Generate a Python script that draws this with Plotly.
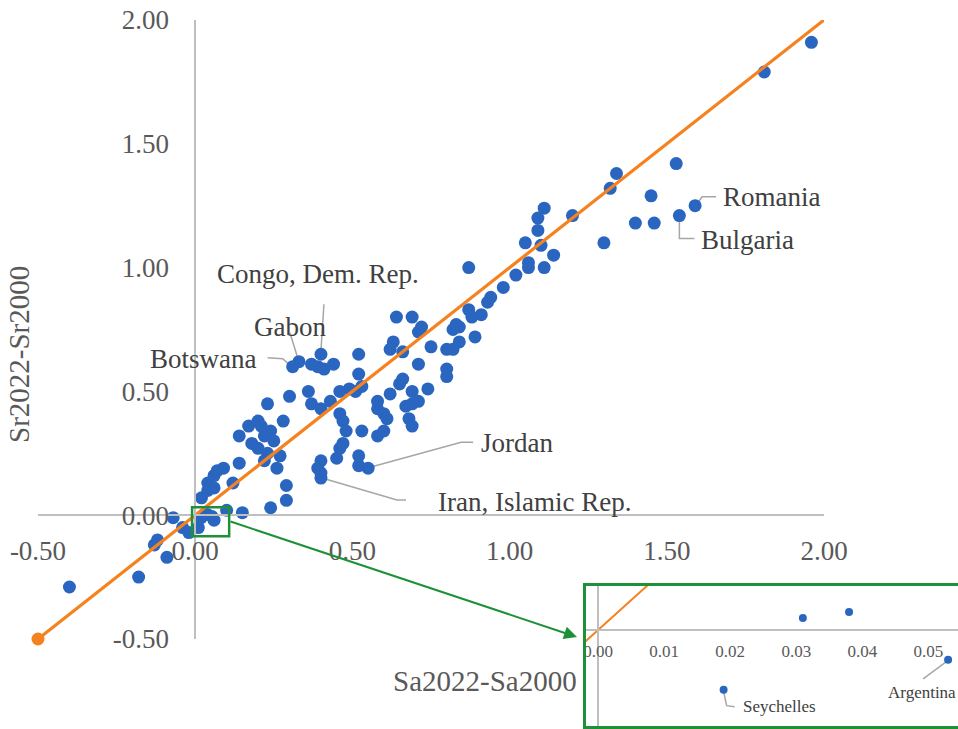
import plotly.graph_objects as go

# ---- data: change 2000 -> 2022 ----------------------------------------
sa_change = [
    -0.40, -0.18, -0.09, -0.13, -0.12, -0.07, -0.04, -0.02, 0.01, 0.06,
    0.02, 0.04, 0.04, 0.06, 0.06, 0.07, 0.09, 0.10, 0.12, 0.14,
    0.15, 0.24, 0.29, 0.29, 0.14, 0.17, 0.20, 0.21, 0.18, 0.20,
    0.22, 0.24, 0.25, 0.28, 0.23, 0.27, 0.22, 0.26,
    0.23, 0.30, 0.36, 0.37, 0.40, 0.43, 0.46, 0.47, 0.48, 0.47,
    0.46, 0.53, 0.62, 0.58, 0.58, 0.60, 0.61, 0.60, 0.58, 0.65,
    0.52, 0.53, 0.51, 0.49, 0.46, 0.52, 0.63, 0.62, 0.37, 0.39,
    0.41, 0.44, 0.40, 0.39, 0.40, 0.45, 0.52, 0.52, 0.66, 0.69,
    0.74, 0.71, 0.67, 0.69, 0.68, 0.69,
    0.64, 0.69, 0.72, 0.71, 0.66, 0.75, 0.80, 0.82, 0.84, 0.82,
    0.84, 0.83, 0.89, 0.88, 0.91, 0.87, 0.93, 0.94, 0.71, 0.80,
    0.80,
    0.87, 0.98, 1.02, 1.06, 1.06, 1.11, 1.14, 1.10, 1.05, 1.09,
    1.09, 1.11, 1.20, 1.30, 1.32, 1.34, 1.40, 1.45, 1.46, 1.53,
    1.81, 1.96,
    0.031, 0.038,
]
sr_change = [
    -0.29, -0.25, -0.17, -0.12, -0.10, -0.01, -0.05, -0.07, -0.05, -0.02,
    0.07, 0.10, 0.13, 0.11, 0.16, 0.18, 0.19, 0.02, 0.13, 0.21,
    0.01, 0.03, 0.06, 0.12, 0.32, 0.36, 0.38, 0.36, 0.29, 0.27,
    0.32, 0.34, 0.30, 0.38, 0.25, 0.24, 0.22, 0.19,
    0.45, 0.48, 0.50, 0.45, 0.43, 0.46, 0.41, 0.38, 0.34, 0.29,
    0.27, 0.34, 0.49, 0.46, 0.43, 0.41, 0.39, 0.34, 0.32, 0.53,
    0.57, 0.52, 0.50, 0.51, 0.50, 0.65, 0.70, 0.67, 0.61, 0.60,
    0.59, 0.61, 0.22, 0.19, 0.17, 0.23, 0.24, 0.20, 0.55, 0.50,
    0.51, 0.46, 0.44, 0.45, 0.39, 0.36,
    0.80, 0.80, 0.76, 0.74, 0.66, 0.68, 0.67, 0.67, 0.70, 0.75,
    0.76, 0.77, 0.72, 0.80, 0.81, 0.83, 0.86, 0.88, 0.61, 0.59,
    0.56,
    1.00, 0.92, 0.97, 1.00, 1.02, 1.00, 1.05, 1.09, 1.10, 1.15,
    1.20, 1.24, 1.21, 1.10, 1.32, 1.38, 1.18, 1.29, 1.18, 1.42,
    1.79, 1.91,
    0.002, 0.003,
]

# countries called out with a label
named_country = ["Romania", "Bulgaria", "Congo, Dem. Rep.", "Gabon", "Botswana",
                 "Jordan", "Iran, Islamic Rep.", "Seychelles", "Argentina"]
named_sa = [1.59, 1.54, 0.40, 0.33, 0.31, 0.55, 0.40, 0.019, 0.053]
named_sr = [1.25, 1.21, 0.65, 0.62, 0.60, 0.19, 0.15, -0.010, -0.005]

# 45-degree reference line
ref_x = [-0.50, 2.00]
ref_y = [-0.50, 2.00]

tick_vals = [-0.5, 0.0, 0.5, 1.0, 1.5, 2.0]
tick_text = ["-0.50", "0.00", "0.50", "1.00", "1.50", "2.00"]
zoom_tick_vals = [0.0, 0.01, 0.02, 0.03, 0.04, 0.05]
zoom_tick_text = ["0.00", "0.01", "0.02", "0.03", "0.04", "0.05"]

# ---- layout geometry ----------------------------------------------------
W, H = 958, 729
main_x_px = (38, 824)          # left / right edge of the main plot area
main_y_px = (20, 639)          # top / bottom edge
main_xr = [-0.5, 2.0]
main_yr = [-0.5, 2.0]

zoom_x_px = (583, 958)
zoom_y_px = (583, 729)
zoom_xr = [-0.0023, 0.0545]
zoom_yr = [-0.01659, 0.00787]

BLUE = "#2A66BF"
ORANGE = "#F5821F"
GREEN = "#1E9138"
AXIS = "#BFBFBF"
LEADER = "#A6A6A6"
SERIF = "Liberation Serif, Times New Roman, serif"


def px_dom_x(a, b):
    return [a / W, b / W]


def px_dom_y(top, bottom):
    return [1 - bottom / H, 1 - top / H]


def zero_pos(dom, rng):
    return dom[0] + (0 - rng[0]) / (rng[1] - rng[0]) * (dom[1] - dom[0])


mx_dom = px_dom_x(*main_x_px)
my_dom = px_dom_y(*main_y_px)
zx_dom = px_dom_x(*zoom_x_px)
zy_dom = px_dom_y(*zoom_y_px)

# data units per screen pixel, used for label leader offsets
scale = {
    "main": ((main_xr[1] - main_xr[0]) / (main_x_px[1] - main_x_px[0]),
             (main_yr[1] - main_yr[0]) / (main_y_px[1] - main_y_px[0])),
    "zoom": ((zoom_xr[1] - zoom_xr[0]) / (zoom_x_px[1] - zoom_x_px[0]),
             (zoom_yr[1] - zoom_yr[0]) / (zoom_y_px[1] - zoom_y_px[0])),
}

all_sa = sa_change + named_sa
all_sr = sr_change + named_sr

fig = go.Figure()

# leader lines: pixel offsets from the country's point (x right, y down)
leaders = {
    "Romania": ("main", [(2, -2), (7, -9), (21, -9)], (26, -9), "left"),
    "Bulgaria": ("main", [(0, 4), (0, 23), (15, 23)], (20, 24), "left"),
    "Congo, Dem. Rep.": ("main", [(0, -4), (3, -50)], (-3, -80), "center"),
    "Gabon": ("main", [(-1, -3), (-9, -29)], (-9, -35), "center"),
    "Botswana": ("main", [(-2, -1), (-10, -8), (-25, -9)], (-34, -8), "right"),
    "Jordan": ("main", [(2, -1), (93, -26), (105, -26)], (111, -25), "left"),
    "Iran, Islamic Rep.": ("main", [(1, 0), (76, 22), (85, 22)], (115, 24), "left"),
    "Seychelles": ("zoom", [(0, 2), (3, 16), (11, 17)], (17, 17), "left"),
    "Argentina": ("zoom", [(-2, 2), (-25, 19)], (-26, 33), "center"),
}

axes_of = {"main": ("x", "y"), "zoom": ("x2", "y2")}

for name, sa, sr in zip(named_country, named_sa, named_sr):
    sub, path, _, _ = leaders[name]
    sx, sy = scale[sub]
    xa, ya = axes_of[sub]
    fig.add_trace(go.Scatter(
        x=[sa + dx * sx for dx, dy in path],
        y=[sr - dy * sy for dx, dy in path],
        mode="lines", line=dict(color=LEADER, width=1.5),
        xaxis=xa, yaxis=ya, hoverinfo="skip", showlegend=False))

# main scatter
fig.add_trace(go.Scatter(
    x=all_sa, y=all_sr, mode="markers",
    marker=dict(color=BLUE, size=13, line=dict(width=0)),
    cliponaxis=False, showlegend=False))

# reference line, with a marker on its lower end
fig.add_trace(go.Scatter(
    x=ref_x, y=ref_y, mode="lines",
    line=dict(color=ORANGE, width=3.2),
    showlegend=False))
fig.add_trace(go.Scatter(
    x=ref_x[:1], y=ref_y[:1], mode="markers",
    marker=dict(color=ORANGE, size=13, opacity=1, line=dict(width=0)),
    cliponaxis=False, showlegend=False))

# magnified view around the origin
fig.add_trace(go.Scatter(
    x=all_sa, y=all_sr, mode="markers",
    marker=dict(color=BLUE, size=8, line=dict(width=0)),
    xaxis="x2", yaxis="y2", showlegend=False))
fig.add_trace(go.Scatter(
    x=ref_x, y=ref_y, mode="lines",
    line=dict(color=ORANGE, width=2),
    xaxis="x2", yaxis="y2", showlegend=False))

annotations = []
for name, sa, sr in zip(named_country, named_sa, named_sr):
    sub, _, (tx, ty), anchor = leaders[name]
    xa, ya = axes_of[sub]
    size = 27 if sub == "main" else 17
    annotations.append(dict(
        x=sa, y=sr, xref=xa, yref=ya, text=name, showarrow=False,
        xshift=tx, yshift=-ty, xanchor=anchor, yanchor="middle",
        font=dict(family=SERIF, size=size, color="#404040")))

# axis titles
annotations.append(dict(
    x=485 / W, y=1 - 681 / H, xref="paper", yref="paper",
    text="Sa2022-Sa2000", showarrow=False, xanchor="center", yanchor="middle",
    font=dict(family=SERIF, size=29, color="#595959")))
annotations.append(dict(
    x=19 / W, y=1 - 355 / H, xref="paper", yref="paper",
    text="Sr2022-Sr2000", showarrow=False, textangle=-90,
    xanchor="center", yanchor="middle",
    font=dict(family=SERIF, size=29, color="#595959")))

# connector arrow from the highlight box to the magnified view
annotations.append(dict(
    x=577 / W, y=1 - 637 / H, xref="paper", yref="paper",
    text="", showarrow=True, ax=-348, ay=-116,
    arrowhead=2, arrowsize=1.3, arrowwidth=2, arrowcolor=GREEN))

shapes = [
    # highlight box around the origin
    dict(type="rect", xref="x", yref="y", x0=-0.01, x1=0.108, y0=-0.085, y1=0.032,
         line=dict(color=GREEN, width=2.5), layer="above"),
    # frame of the magnified view
    dict(type="rect", xref="paper", yref="paper",
         x0=(zoom_x_px[0] + 1.5) / W, x1=1.01, y0=1.5 / H, y1=1 - (zoom_y_px[0] + 1.5) / H,
         line=dict(color=GREEN, width=3), layer="above"),
]

tick_font = dict(family=SERIF, size=27, color="#595959")

fig.update_layout(
    width=W, height=H,
    margin=dict(l=0, r=0, t=0, b=0),
    paper_bgcolor="white", plot_bgcolor="rgba(0,0,0,0)",
    showlegend=False,
    xaxis=dict(domain=mx_dom, range=main_xr, anchor="free",
               position=zero_pos(my_dom, main_yr),
               tickvals=tick_vals, ticktext=tick_text, tickfont=tick_font,
               ticks="", ticklabelstandoff=12,
               showgrid=False, zeroline=False, showline=True,
               linecolor=AXIS, linewidth=1.5, automargin=False),
    yaxis=dict(domain=my_dom, range=main_yr, anchor="free",
               position=zero_pos(mx_dom, main_xr),
               tickvals=tick_vals, ticktext=tick_text, tickfont=tick_font,
               ticks="", ticklabelstandoff=20,
               showgrid=False, zeroline=False, showline=True,
               linecolor=AXIS, linewidth=1.5, automargin=False),
    xaxis2=dict(domain=zx_dom, range=zoom_xr, anchor="free",
                position=zero_pos(zy_dom, zoom_yr),
                tickvals=zoom_tick_vals, ticktext=zoom_tick_text,
                tickfont=dict(family=SERIF, size=17, color="#595959"),
                ticks="", ticklabelstandoff=6,
                showgrid=False, zeroline=False, showline=True,
                linecolor=AXIS, linewidth=1.5, automargin=False),
    yaxis2=dict(domain=zy_dom, range=zoom_yr, anchor="free",
                position=zero_pos(zx_dom, zoom_xr),
                showticklabels=False, ticks="",
                showgrid=False, zeroline=False, showline=True,
                linecolor=AXIS, linewidth=1.5, automargin=False),
    annotations=annotations,
    shapes=shapes,
)

fig.write_html("out.html")
